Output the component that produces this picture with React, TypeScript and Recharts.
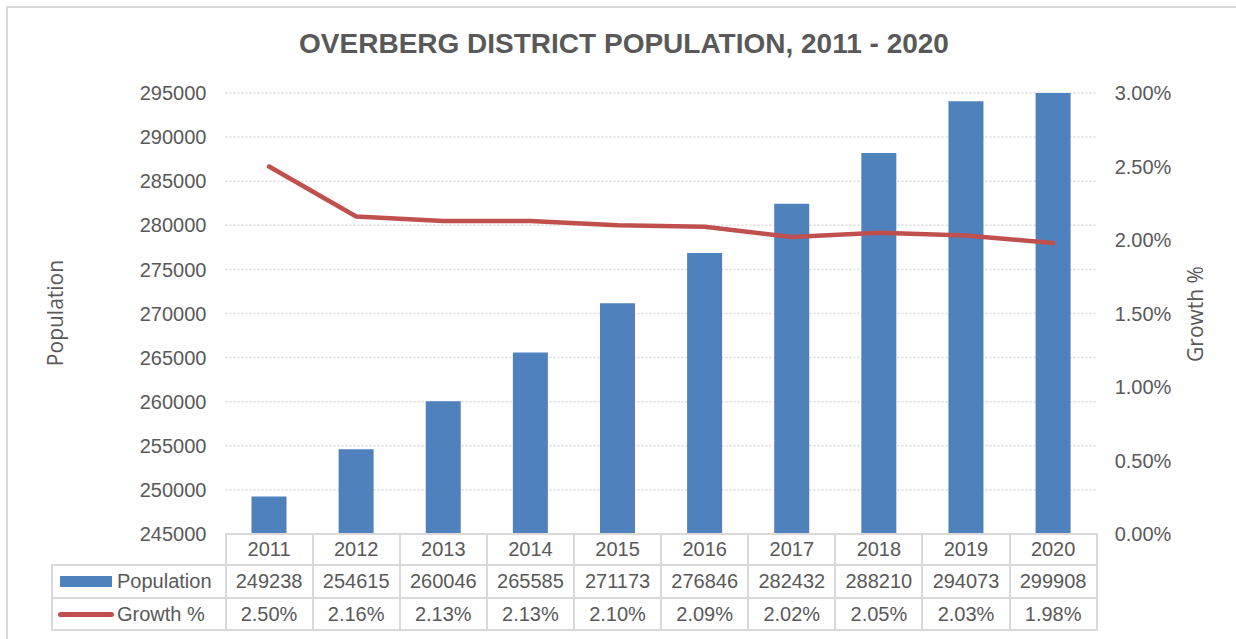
import React from "react";
import {
  ComposedChart,
  Bar,
  Line,
  XAxis,
  YAxis,
  CartesianGrid,
} from "recharts";

const years = ["2011", "2012", "2013", "2014", "2015", "2016", "2017", "2018", "2019", "2020"];
const population = [249238, 254615, 260046, 265585, 271173, 276846, 282432, 288210, 294073, 299908];
const growth = [2.5, 2.16, 2.13, 2.13, 2.1, 2.09, 2.02, 2.05, 2.03, 1.98];
const popTicks = [245000, 250000, 255000, 260000, 265000, 270000, 275000, 280000, 285000, 290000, 295000];
const growthTicks = [0, 0.5, 1, 1.5, 2, 2.5, 3];

const W = 1236;
const H = 639;
const PLOT_L = 225.5;
const PLOT_R = 1096.7;
const PLOT_T = 93;
const PLOT_B = 534;
const AXIS_W = 100;

const TEXT = "#595959";
const BORDER = "#d9d9d9";
const FONT = "'Liberation Sans', Arial, sans-serif";

const data = years.map((y, i) => ({ year: y, population: population[i], growth: growth[i] }));

function DataTable() {
  const colW = (PLOT_R - PLOT_L) / years.length;
  const rows = [PLOT_B, 565, 598, 630];
  const cell = (left: number, top: number, width: number, height: number, content: React.ReactNode, key: string) => (
    <div
      key={key}
      style={{
        position: "absolute",
        left,
        top,
        width,
        height,
        display: "flex",
        alignItems: "center",
        justifyContent: "center",
        fontFamily: FONT,
        fontSize: 20,
        color: TEXT,
        boxSizing: "border-box",
      }}
    >
      {content}
    </div>
  );
  const lines: React.ReactNode[] = [];
  // horizontal lines
  lines.push(<div key="h0" style={{ position: "absolute", left: PLOT_L - 1, top: rows[0] - 1, width: PLOT_R - PLOT_L + 2, height: 2, background: BORDER }} />);
  [rows[1], rows[2], rows[3]].forEach((y, i) =>
    lines.push(<div key={"h" + (i + 1)} style={{ position: "absolute", left: 51, top: y - 1, width: PLOT_R - 51 + 1, height: 2, background: BORDER }} />)
  );
  // vertical lines
  lines.push(<div key="vl" style={{ position: "absolute", left: 51, top: rows[1] - 1, width: 2, height: rows[3] - rows[1] + 2, background: BORDER }} />);
  for (let i = 0; i <= years.length; i++) {
    const x = PLOT_L + i * colW;
    lines.push(<div key={"v" + i} style={{ position: "absolute", left: x - 1, top: rows[0] - 1, width: 2, height: rows[3] - rows[0] + 2, background: BORDER }} />);
  }
  const cells: React.ReactNode[] = [];
  years.forEach((y, i) => {
    const x = PLOT_L + i * colW;
    cells.push(cell(x, rows[0], colW, rows[1] - rows[0], y, "y" + i));
    cells.push(cell(x, rows[1], colW, rows[2] - rows[1], String(population[i]), "p" + i));
    cells.push(cell(x, rows[2], colW, rows[3] - rows[2], growth[i].toFixed(2) + "%", "g" + i));
  });
  return (
    <>
      {lines}
      {cells}
      <div style={{ position: "absolute", left: 60, top: 576, width: 52, height: 11, background: "#4F81BD" }} />
      <div style={{ position: "absolute", left: 58, top: 611.5, width: 56, height: 5, borderRadius: 3, background: "#C0504D" }} />
      <div style={{ position: "absolute", left: 117, top: rows[1], height: rows[2] - rows[1], display: "flex", alignItems: "center", fontFamily: FONT, fontSize: 20, color: TEXT }}>Population</div>
      <div style={{ position: "absolute", left: 117, top: rows[2], height: rows[3] - rows[2], display: "flex", alignItems: "center", fontFamily: FONT, fontSize: 20, color: TEXT }}>Growth %</div>
    </>
  );
}

export default function App() {
  return (
    <div style={{ position: "absolute", left: 0, top: 0, width: W, height: H, background: "#fff", overflow: "hidden" }}>
      <div style={{ position: "absolute", left: 6, top: 6, width: W + 20, height: H + 20, border: `2px solid ${BORDER}` }} />
      <div
        style={{
          position: "absolute",
          left: 0,
          width: W,
          top: 27.5,
          textAlign: "center",
          paddingLeft: 12,
          boxSizing: "border-box",
          fontFamily: FONT,
          fontWeight: "bold",
          fontSize: 28,
          color: TEXT,
          whiteSpace: "nowrap",
        }}
      >
        OVERBERG DISTRICT POPULATION, 2011 - 2020
      </div>
      <div
        style={{
          position: "absolute",
          left: 55,
          top: 313,
          transform: "translate(-50%, -50%) rotate(-90deg)",
          fontFamily: "'Open Sans', sans-serif",
          fontSize: 21,
          color: TEXT,
          whiteSpace: "nowrap",
        }}
      >
        Population
      </div>
      <div
        style={{
          position: "absolute",
          left: 1195,
          top: 314,
          transform: "translate(-50%, -50%) rotate(-90deg)",
          fontFamily: "'Open Sans', sans-serif",
          fontSize: 21,
          color: TEXT,
          whiteSpace: "nowrap",
        }}
      >
        Growth %
      </div>
      <div style={{ position: "absolute", left: 0, top: 0 }}>
        <ComposedChart
          width={W}
          height={H}
          data={data}
          margin={{ top: PLOT_T, bottom: H - PLOT_B, left: PLOT_L - AXIS_W, right: W - PLOT_R - AXIS_W }}
        >
          <CartesianGrid yAxisId="left" vertical={false} stroke={BORDER} strokeDasharray="2 2" strokeWidth={1.5} />
          <XAxis dataKey="year" hide />
          <YAxis
            yAxisId="left"
            orientation="left"
            width={AXIS_W}
            domain={[245000, 295000]}
            ticks={popTicks}
            allowDataOverflow
            axisLine={false}
            tickLine={false}
            tickSize={0}
            tickMargin={19}
            tick={{ fill: TEXT, fontSize: 20, fontFamily: FONT }}
          />
          <YAxis
            yAxisId="right"
            orientation="right"
            width={AXIS_W}
            domain={[0, 3]}
            ticks={growthTicks}
            axisLine={false}
            tickLine={false}
            tickSize={0}
            tickMargin={18}
            tickFormatter={(v: number) => v.toFixed(2) + "%"}
            tick={{ fill: TEXT, fontSize: 20, fontFamily: FONT, textAnchor: "start" }}
          />
          <Bar yAxisId="left" dataKey="population" fill="#4F81BD" barSize={35} isAnimationActive={false} />
          <Line
            yAxisId="right"
            dataKey="growth"
            stroke="#C0504D"
            strokeWidth={4.5}
            strokeLinecap="round"
            strokeLinejoin="round"
            dot={false}
            activeDot={false}
            isAnimationActive={false}
          />
        </ComposedChart>
      </div>
      <DataTable />
    </div>
  );
}
